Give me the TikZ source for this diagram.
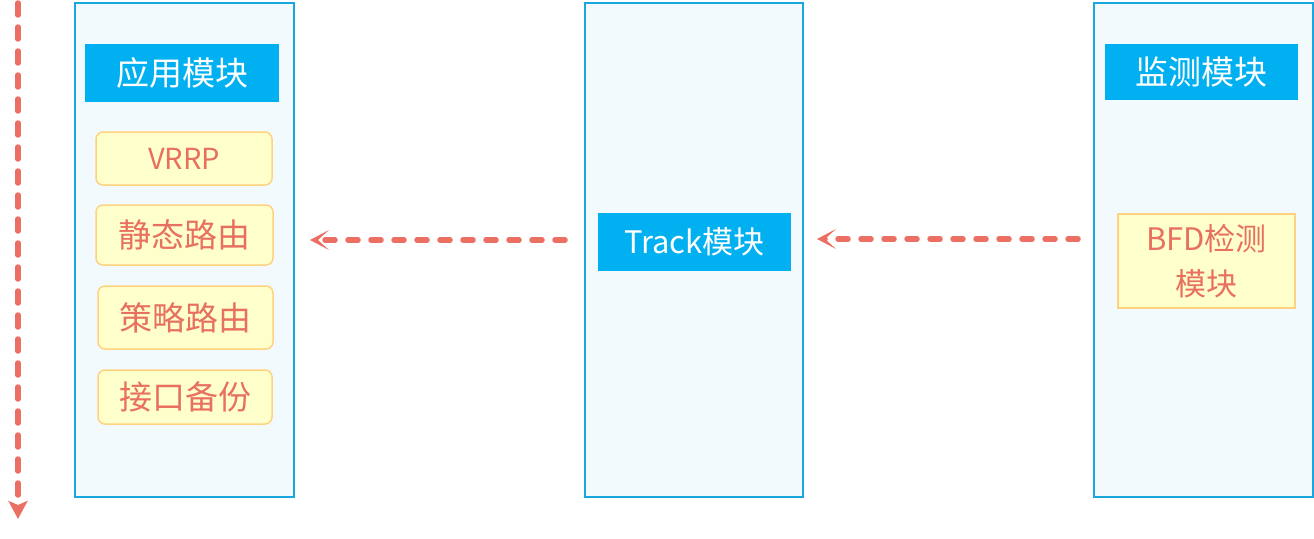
\documentclass[tikz,border=0pt]{standalone}
\usepackage{fontspec}
\setmainfont{Noto Sans CJK SC}
\usetikzlibrary{arrows.meta}
\definecolor{bordblue}{HTML}{1AA7DF}
\definecolor{panelfill}{HTML}{F2FAFD}
\definecolor{headblue}{HTML}{00B0F0}
\definecolor{itemfill}{HTML}{FFFFCC}
\definecolor{itemborder}{HTML}{FFD27F}
\definecolor{itemtext}{HTML}{E8705F}
\definecolor{arrowred}{HTML}{EB7063}
\tikzset{
  panel/.style={draw=bordblue, line width=1.5pt, fill=panelfill},
  header/.style={fill=headblue, text=white, inner sep=0pt, font=\fontsize{33}{38}\selectfont},
  item/.style={draw=itemborder, line width=1.5pt, fill=itemfill, text=itemtext, rounded corners=7pt, inner sep=0pt, font=\fontsize{33}{38}\selectfont},
  flow/.style={draw=arrowred, line width=5.5pt, line cap=round, dash pattern=on 10pt off 13pt},
}
\begin{document}
\begin{tikzpicture}[x=1pt,y=-1pt]
\useasboundingbox (0,0) rectangle (1314,538);
% panels
\draw[panel] (75,3) rectangle (294,497);
\draw[panel] (585,3) rectangle (803,497);
\draw[panel] (1094,3) rectangle (1313,497);
% headers
\node[header, minimum width=194pt, minimum height=58pt] (app) at (182,73) {应用模块};
\node[header, minimum width=193pt, minimum height=58pt, font=\fontsize{31}{36}\selectfont] (track) at (694.5,242) {Track模块};
\node[header, minimum width=193pt, minimum height=56pt] (mon) at (1201.5,72) {监测模块};
% items
\node[item, minimum width=176pt, minimum height=53pt, font=\fontsize{29}{34}\selectfont] (vrrp) at (184,158.5) {VRRP};
\node[item, minimum width=177pt, minimum height=60pt] (static) at (184.5,235) {静态路由};
\node[item, minimum width=175pt, minimum height=63pt] (policy) at (185.5,317.5) {策略路由};
\node[item, minimum width=174pt, minimum height=54pt] (iface) at (185,397) {接口备份};
\node[item, rounded corners=0pt, minimum width=177pt, minimum height=94pt, align=center, font=\fontsize{31}{45}\selectfont] (bfd) at (1206.5,261) {BFD检测\\模块};
% connectors
\coordinate (a1s) at (565,240);
\coordinate (a1e) at (310,240);
\coordinate (a2s) at (1078,239);
\coordinate (a2e) at (817,239);
\coordinate (vs) at (18,3);
\coordinate (ve) at (18,519);
\draw[flow, -{Stealth[length=19pt,width=20pt,inset=11pt]}] (a1s) -- (a1e);
\draw[flow, -{Stealth[length=19pt,width=20pt,inset=11pt]}] (a2s) -- (a2e);
\draw[flow, dash pattern=on 12pt off 12pt, -{Stealth[length=18pt,width=19pt,inset=4pt]}] (vs) -- (ve);
\end{tikzpicture}
\end{document}
